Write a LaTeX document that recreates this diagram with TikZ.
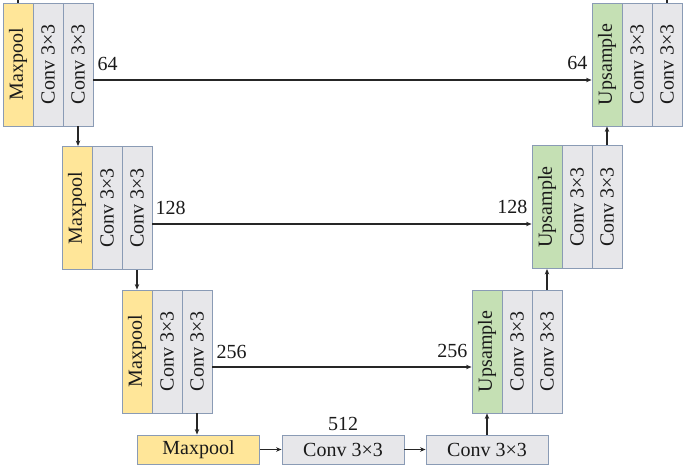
\documentclass[tikz,border=0pt]{standalone}
\usepackage{fontspec}
\setmainfont{Liberation Serif}
\usetikzlibrary{arrows.meta}
\definecolor{mpY}{HTML}{FFE699}
\definecolor{cvG}{HTML}{E7E7EA}
\definecolor{upG}{HTML}{C5E0B4}
\definecolor{bordc}{HTML}{8A9BB5}
\definecolor{txt}{HTML}{1A1A1A}
\begin{document}
\begin{tikzpicture}[x=1pt,y=-1pt,
  box/.style={draw=bordc, line width=0.9pt, inner sep=0pt, text=txt, font=\fontsize{20}{22}\selectfont},
  vcol/.style={box, minimum width=30pt, minimum height=123pt},
  hbox/.style={box, minimum width=122pt, minimum height=29pt},
  mp/.style={fill=mpY}, cv/.style={fill=cvG}, up/.style={fill=upG},
  arr/.style={-{Stealth[length=5.5pt,width=4.5pt]}, line width=1.1pt, draw=black!85},
  ln/.style={line width=1.1pt, draw=black!85},
  lbl/.style={inner sep=0pt, text=txt, font=\fontsize{20}{22}\selectfont}]
\useasboundingbox (0,0) rectangle (689,468);
% encoder
\node[vcol,mp] (L1a) at (18,64.5) {\rotatebox{90}{Maxpool}};
\node[vcol,cv] (L1b) at (48,64.5) {\rotatebox{90}{Conv 3×3}};
\node[vcol,cv] (L1c) at (78,64.5) {\rotatebox{90}{Conv 3×3}};
\node[vcol,mp] (L2a) at (77,208) {\rotatebox{90}{Maxpool}};
\node[vcol,cv] (L2b) at (107,208) {\rotatebox{90}{Conv 3×3}};
\node[vcol,cv] (L2c) at (137,208) {\rotatebox{90}{Conv 3×3}};
\node[vcol,mp] (L3a) at (137,351.5) {\rotatebox{90}{Maxpool}};
\node[vcol,cv] (L3b) at (167,351.5) {\rotatebox{90}{Conv 3×3}};
\node[vcol,cv] (L3c) at (197,351.5) {\rotatebox{90}{Conv 3×3}};
% bottleneck
\node[hbox,mp] (B1) at (198.5,449.5) {Maxpool};
\node[hbox,cv] (B2) at (343,449.5) {Conv 3×3};
\node[hbox,cv] (B3) at (487,449.5) {Conv 3×3};
% decoder
\node[vcol,up] (R3a) at (487,351.5) {\rotatebox{90}{Upsample}};
\node[vcol,cv] (R3b) at (517,351.5) {\rotatebox{90}{Conv 3×3}};
\node[vcol,cv] (R3c) at (547,351.5) {\rotatebox{90}{Conv 3×3}};
\node[vcol,up] (R2a) at (547,207) {\rotatebox{90}{Upsample}};
\node[vcol,cv] (R2b) at (577,207) {\rotatebox{90}{Conv 3×3}};
\node[vcol,cv] (R2c) at (607,207) {\rotatebox{90}{Conv 3×3}};
\node[vcol,up] (R1a) at (607,64.5) {\rotatebox{90}{Upsample}};
\node[vcol,cv] (R1b) at (637,64.5) {\rotatebox{90}{Conv 3×3}};
\node[vcol,cv] (R1c) at (667,64.5) {\rotatebox{90}{Conv 3×3}};
% stubs at the top
\coordinate (t1) at (18,0);
\coordinate (t2) at (667,0);
\draw[ln] (t1) -- (L1a.north);
\draw[ln] (R1c.north) -- (t2);
% vertical flow
\draw[arr] (L1c.south) -- (L1c.south |- L2a.north);
\draw[arr] (L2c.south) -- (L2c.south |- L3a.north);
\draw[arr] (L3c.south) -- (L3c.south |- B1.north);
\draw[arr] (B1.east) -- (B2.west);
\draw[arr] (B2.east) -- (B3.west);
\draw[arr] (B3.north) -- (R3a.south);
\draw[arr] (R3c.north) -- (R3c.north |- R2a.south);
\draw[arr] (R2c.north) -- (R2c.north |- R1a.south);
\node[lbl, anchor=base] at ([yshift=4pt]B2.north) {512};
% skip connections
\coordinate (s1a) at ([yshift=-15.5pt]L1c.east);
\coordinate (s1b) at (s1a -| R1a.west);
\draw[arr] (s1a) -- (s1b);
\node[lbl, anchor=base west] at ([xshift=4pt,yshift=9pt]s1a) {64};
\node[lbl, anchor=base east] at ([xshift=-4pt,yshift=10pt]s1b) {64};
\coordinate (s2a) at ([yshift=-16pt]L2c.east);
\coordinate (s2b) at (s2a -| R2a.west);
\draw[arr] (s2a) -- (s2b);
\node[lbl, anchor=base west] at ([xshift=3pt,yshift=9pt]s2a) {128};
\node[lbl, anchor=base east] at ([xshift=-4pt,yshift=10pt]s2b) {128};
\coordinate (s3a) at ([yshift=-15.5pt]L3c.east);
\coordinate (s3b) at (s3a -| R3a.west);
\draw[arr] (s3a) -- (s3b);
\node[lbl, anchor=base west] at ([xshift=4pt,yshift=9pt]s3a) {256};
\node[lbl, anchor=base east] at ([xshift=-4pt,yshift=10pt]s3b) {256};
\end{tikzpicture}
\end{document}
